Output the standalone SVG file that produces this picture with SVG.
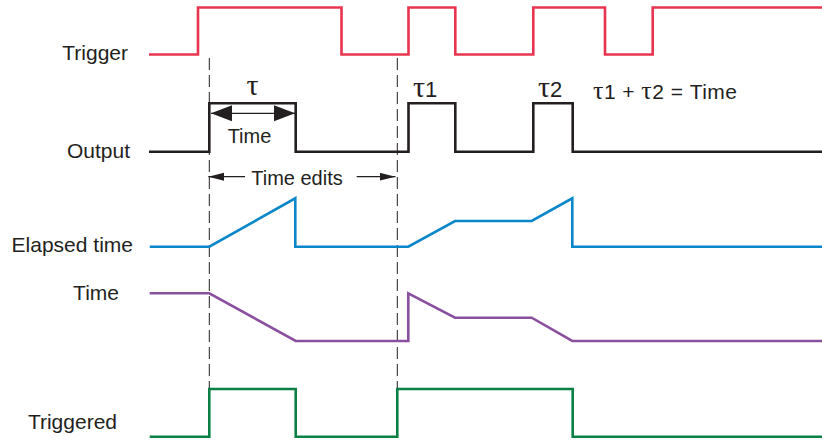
<svg xmlns="http://www.w3.org/2000/svg" width="822" height="443" viewBox="0 0 822 443">
<style>
  .sig { fill: none; stroke-width: 2.6; stroke-linejoin: miter; stroke-linecap: butt; }
  .trig { stroke: #e8344e; }
  .out { stroke: #231f20; }
  .elap { stroke: #0a87c9; }
  .time { stroke: #8b4f9f; }
  .trgd { stroke: #0a8045; }
  .dash { stroke: #231f20; stroke-width: 1; stroke-dasharray: 12 5; fill: none; }
  .arr { stroke: #231f20; stroke-width: 1.2; fill: none; }
  .lbl { font-family: "Liberation Sans", Arial, sans-serif; font-size: 20px; fill: #231f20; }
  .side { font-size: 21px; }
  .eq { font-size: 21px; }
  .tau { font-family: "Liberation Serif", "Times New Roman", serif; }
  .tauBig { font-size: 30px; }
  .tauMid { font-size: 26px; }
  .num { font-size: 22px; }
</style>
<defs>
  <marker id="bigHead" markerUnits="userSpaceOnUse" markerWidth="22" markerHeight="18" refX="21" refY="8" orient="auto-start-reverse">
    <path d="M0,0 L21,8 L0,16 z" fill="#231f20"/>
  </marker>
  <marker id="smallHead" markerUnits="userSpaceOnUse" markerWidth="17" markerHeight="9" refX="16" refY="4" orient="auto">
    <path d="M0,0 L16,4 L0,8 z" fill="#231f20"/>
  </marker>
</defs>
<rect width="822" height="443" fill="#ffffff"/>

<g id="labels">
  <text class="lbl side" x="128" y="60" text-anchor="end">Trigger</text>
  <text class="lbl side" x="130" y="158" text-anchor="end">Output</text>
  <text class="lbl side" x="133" y="252" text-anchor="end">Elapsed time</text>
  <text class="lbl side" x="119" y="300" text-anchor="end">Time</text>
  <text class="lbl side" x="117" y="429" text-anchor="end">Triggered</text>
</g>

<g id="guides">
  <line class="dash" x1="209.3" y1="58" x2="209.3" y2="389"/>
  <line class="dash" x1="397.3" y1="58" x2="397.3" y2="389"/>
</g>

<g id="signal-trigger">
  <polyline class="sig trig" points="149,54.5 198,54.5 198,7.5 341.5,7.5 341.5,54.5 408.5,54.5 408.5,7.5 455.3,7.5 455.3,54.5 533.3,54.5 533.3,7.5 605,7.5 605,54.5 652.7,54.5 652.7,7.5 822,7.5"/>
</g>

<g id="signal-output">
  <polyline class="sig out" points="149,151.7 209.3,151.7 209.3,103.3 295.7,103.3 295.7,151.7 408.5,151.7 408.5,103.3 455.3,103.3 455.3,151.7 533.3,151.7 533.3,103.3 572.7,103.3 572.7,151.7 822,151.7"/>
</g>

<g id="signal-elapsed">
  <polyline class="sig elap" points="149.7,246.7 209.3,246.7 295.3,198.3 295.3,246.7 408.3,246.7 455,221 531.7,221 572.3,198.3 572.3,246.7 822,246.7"/>
</g>

<g id="signal-time">
  <polyline class="sig time" points="149.7,293.3 209.3,293.3 295.7,341 408.3,341 408.3,293.3 455,317.7 531.7,317.7 572.3,341 822,341"/>
</g>

<g id="signal-triggered">
  <polyline class="sig trgd" points="149.7,436.7 209.3,436.7 209.3,389 295.7,389 295.7,436.7 397.3,436.7 397.3,389 572.7,389 572.7,436.7 822,436.7"/>
</g>

<g id="connectors">
  <line class="arr" x1="211" y1="113.3" x2="295" y2="113.3" marker-start="url(#bigHead)" marker-end="url(#bigHead)"/>
  <line class="arr" x1="245" y1="176.7" x2="208.3" y2="176.7" marker-end="url(#smallHead)"/>
  <line class="arr" x1="356.7" y1="176.7" x2="395.5" y2="176.7" marker-end="url(#smallHead)"/>
</g>

<g id="annotations">
  <text class="lbl" x="249.5" y="142.7" text-anchor="middle">Time</text>
  <text class="lbl" x="297" y="185" text-anchor="middle">Time edits</text>
  <text class="lbl tau tauBig" x="252.5" y="95" text-anchor="middle">τ</text>
  <text class="lbl num" x="413" y="96.7"><tspan class="tau tauBig">τ</tspan>1</text>
  <text class="lbl num" x="538" y="96.7"><tspan class="tau tauBig">τ</tspan>2</text>
  <text class="lbl eq" x="593" y="99" textLength="144" lengthAdjust="spacing"><tspan class="tau tauMid">τ</tspan>1 + <tspan class="tau tauMid">τ</tspan>2 = Time</text>
</g>
</svg>
